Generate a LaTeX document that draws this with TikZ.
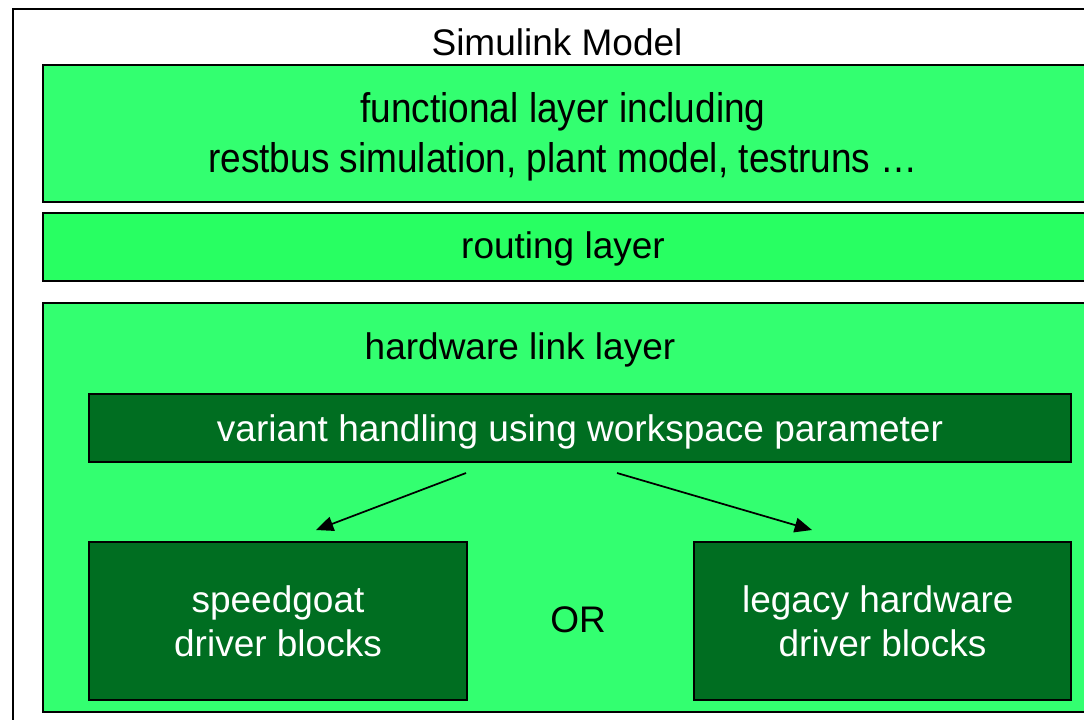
\documentclass[tikz,border=0pt]{standalone}
\usepackage{fontspec}
\setmainfont{Liberation Sans}
\usetikzlibrary{arrows.meta}
\definecolor{layergreen}{RGB}{51,255,112}
\definecolor{routegreen}{RGB}{40,255,98}
\definecolor{blockgreen}{RGB}{0,110,33}
\begin{document}
\begin{tikzpicture}[
  x=0.75pt, y=-0.75pt,
  font=\fontsize{27.75}{33.5}\selectfont,
  >={Triangle[length=13pt,width=11pt]},
  box/.style={draw,line width=1.5pt,anchor=north west,inner sep=0pt,align=center},
  layer/.style={box,fill=layergreen},
  block/.style={box,fill=blockgreen,text=white,text depth=0pt},
  lab/.style={align=center,inner sep=0pt},
  flow/.style={->,line width=1.3pt},
]
\clip (0,0) rectangle (1084,719);
\fill[white] (0,0) rectangle (1084,719);
% frame and layers (they run on past the right edge)
\node[box,minimum width=816pt,minimum height=541.5pt] (model) at (12,8) {};
\node[layer,minimum width=793.5pt,minimum height=102.75pt] (func) at (42,64) {};
\node[layer,fill=routegreen,minimum width=793.5pt,minimum height=51pt] (route) at (42,212) {};
\node[layer,minimum width=793.5pt,minimum height=306.75pt] (hw) at (42,302) {};
% texts
\node[lab] (title) at (557,42) {Simulink Model};
\node[lab] (functxt) at (563,137) {\scalebox{1}[1.12]{\begin{tabular}{@{}c@{}}functional layer including\\restbus simulation, plant model, testruns \dots\end{tabular}}};
\node[lab] (routetxt) at (563,249) {routing layer};
\node[lab] (hwtxt) at (520,350) {hardware link layer};
% blocks inside the hardware link layer
\node[block,minimum width=736.5pt,minimum height=51pt] (variant) at (88,393) {variant handling using workspace parameter};
\node[block,minimum width=283.5pt,minimum height=118.5pt] (speed) at (88,541) {speedgoat\\driver blocks};
\node[block,minimum width=282.75pt,minimum height=118.5pt] (legacy) at (693,541) {legacy hardware\hspace*{7pt}\\driver blocks};
\node[lab] (or) at (578,620) {OR};
% arrows
\coordinate (vl) at (466,473);
\coordinate (vr) at (617,473);
\coordinate (sp) at (316,530);
\coordinate (lg) at (812,530);
\draw[flow] (vl) -- (sp);
\draw[flow] (vr) -- (lg);
\end{tikzpicture}
\end{document}
